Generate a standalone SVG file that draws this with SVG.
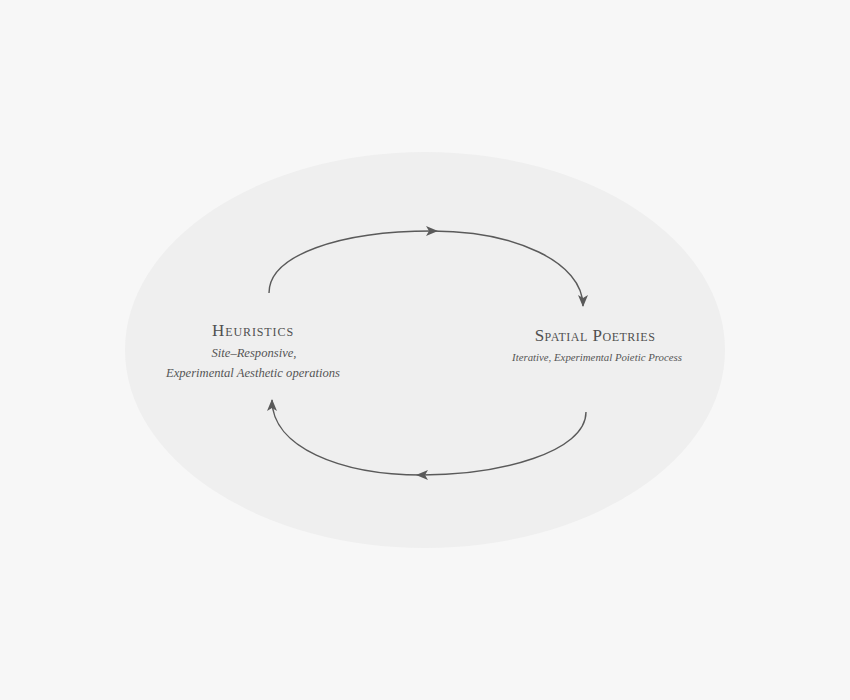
<svg xmlns="http://www.w3.org/2000/svg" width="850" height="700" viewBox="0 0 850 700">
<style>
.bg{fill:#f7f7f7}
.field{fill:#efefef}
.conn{fill:none;stroke:#5a5a5a;stroke-width:1.4}
.title{font-family:"Liberation Serif",serif;font-variant:small-caps;font-size:17px;fill:#505050;text-anchor:middle;letter-spacing:0.9px}
.tight{letter-spacing:0.5px}
.sub{font-family:"Liberation Serif",serif;font-style:italic;font-size:12.6px;fill:#555;text-anchor:middle}
.sub2{font-family:"Liberation Serif",serif;font-style:italic;font-size:10.8px;fill:#555;text-anchor:middle}
</style>
<defs>
<marker id="arr" viewBox="0 0 12 10" refX="11" refY="5" markerWidth="12" markerHeight="10" markerUnits="userSpaceOnUse" orient="auto">
<path d="M0,0 L12,5 L0,10 L3,5 Z" fill="#5a5a5a"/>
</marker>
<marker id="arrmid" viewBox="0 0 12 10" refX="6" refY="5" markerWidth="12" markerHeight="10" markerUnits="userSpaceOnUse" orient="auto">
<path d="M0,0 L12,5 L0,10 L3,5 Z" fill="#5a5a5a"/>
</marker>
</defs>
<rect class="bg" x="0" y="0" width="850" height="700"/>
<ellipse class="field" cx="425" cy="350" rx="300" ry="198"/>
<g id="connectors">
<path class="conn" d="M269,293 C269,255 340,231 432,231 C515,231 583,262 583,306" marker-mid="url(#arrmid)" marker-end="url(#arr)"/>
<path class="conn" d="M586,412 C586,452 500,475 422,475 C340,475 272,447 272,400" marker-mid="url(#arrmid)" marker-end="url(#arr)"/>
</g>
<g id="heuristics">
<text class="title" x="253" y="336">Heuristics</text>
<text class="sub" x="254" y="357">Site–Responsive,</text>
<text class="sub" x="253" y="377">Experimental Aesthetic operations</text>
</g>
<g id="spatial-poetries">
<text class="title tight" x="595" y="341">Spatial Poetries</text>
<text class="sub2" x="597" y="361">Iterative, Experimental Poietic Process</text>
</g>
</svg>
